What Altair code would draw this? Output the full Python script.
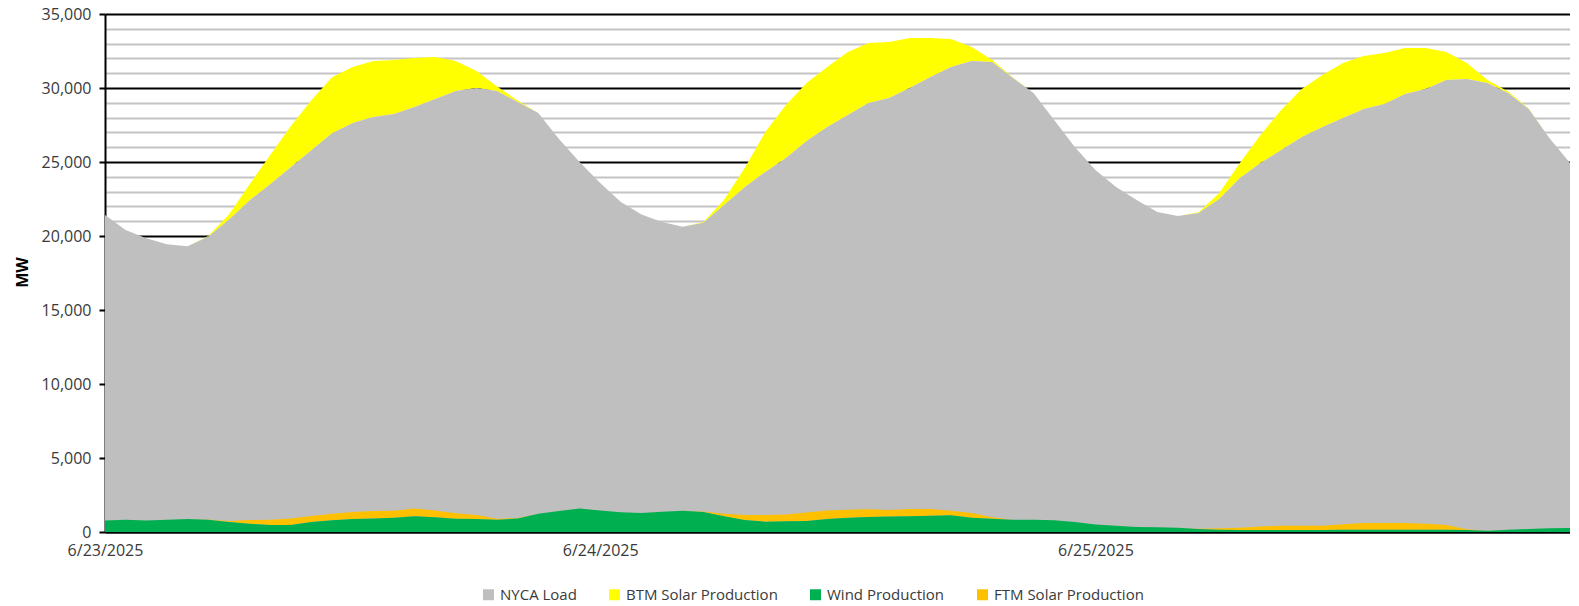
import altair as alt
import pandas as pd

series_names = ["NYCA Load", "BTM Solar Production", "Wind Production", "FTM Solar Production"]
series_colors = ["#bfbfbf", "#ffff00", "#00b050", "#ffc000"]
draw_order = ["BTM Solar Production", "NYCA Load", "FTM Solar Production", "Wind Production"]

date_ticks = [0, 24, 48]
date_labels = ["6/23/2025", "6/24/2025", "6/25/2025"]

# hourly values, 6/23/2025 00:00 .. 6/25/2025 23:00 (MW)
nyca_load = [21420, 20400, 19850, 19450, 19300, 19950, 21100, 22400, 23500, 24650, 25800, 26950,
             27640, 28040, 28250, 28720, 29260, 29800, 30000, 29800, 29050, 28310, 26560, 25000,
             23580, 22300, 21450, 20950, 20620, 20900, 22100, 23300, 24330, 25270, 26420, 27370,
             28180, 28990, 29330, 30000, 30740, 31420, 31830, 31760, 30680, 29660, 27840, 26010,
             24460, 23310, 22430, 21620, 21350, 21560, 22500, 23920, 24930, 25810, 26690, 27370,
             27970, 28580, 28920, 29590, 29930, 30540, 30610, 30340, 29660, 28580, 26620, 24930]

btm_solar = [0, 0, 0, 0, 0, 50, 330, 1080, 1960, 2770, 3380, 3780,
             3780, 3790, 3650, 3310, 2840, 2030, 1150, 300, 100, 0, 0, 0,
             0, 0, 0, 0, 0, 50, 330, 1300, 2700, 3580, 3920, 4050,
             4250, 4050, 3780, 3380, 2640, 1890, 940, 130, 30, 0, 0, 0,
             0, 0, 0, 0, 0, 50, 410, 1010, 1900, 2700, 3240, 3510,
             3720, 3580, 3450, 3110, 2770, 1890, 1080, 200, 100, 30, 0, 0]

wind = [770, 830, 780, 830, 880, 830, 680, 560, 470, 470, 680, 790,
        880, 920, 970, 1060, 990, 900, 880, 830, 920, 1240, 1420, 1580,
        1460, 1330, 1280, 1370, 1440, 1350, 1060, 810, 700, 720, 740, 880,
        970, 1010, 1040, 1060, 1100, 1130, 970, 900, 830, 830, 790, 680,
        500, 430, 340, 320, 290, 200, 160, 135, 135, 135, 135, 135,
        160, 160, 160, 160, 160, 160, 135, 90, 160, 200, 250, 270]

ftm_solar = [0, 0, 0, 0, 0, 20, 70, 250, 360, 450, 400, 450,
             470, 500, 470, 520, 470, 360, 270, 70, 30, 0, 0, 0,
             0, 0, 0, 0, 0, 30, 180, 340, 450, 470, 570, 580,
             540, 520, 450, 490, 450, 310, 310, 90, 0, 0, 0, 0,
             0, 0, 0, 0, 0, 20, 90, 160, 230, 290, 290, 290,
             360, 450, 450, 450, 400, 310, 45, 0, 0, 0, 0, 0]

rows = []
for h in range(len(nyca_load)):
    rows.append(dict(hour=h, series="NYCA Load", lo=0, hi=nyca_load[h]))
    rows.append(dict(hour=h, series="BTM Solar Production", lo=nyca_load[h], hi=nyca_load[h] + btm_solar[h]))
    rows.append(dict(hour=h, series="Wind Production", lo=0, hi=wind[h]))
    rows.append(dict(hour=h, series="FTM Solar Production", lo=wind[h], hi=wind[h] + ftm_solar[h]))
df = pd.DataFrame(rows)

FONT = "Open Sans"
TXT = "#3a3a3a"

x_label_expr = " : ".join(
    f"datum.value === {t} ? '{l}'" for t, l in zip(date_ticks, date_labels)
) + " : ''"

x_enc = alt.X(
    "hour:Q",
    scale=alt.Scale(domain=[0, len(nyca_load) - 1], nice=False, zero=False),
    axis=alt.Axis(
        values=date_ticks, labelExpr=x_label_expr, title=None, grid=False,
        ticks=False, labelPadding=10, labelFont=FONT, labelFontSize=16,
        labelColor=TXT, domainColor="black", domainWidth=2, labelFlush=False,
        labelOverlap=False,
    ),
)

major = "datum.value % 5000 === 0"
y_enc = alt.Y(
    "hi:Q",
    stack=None,
    scale=alt.Scale(domain=[0, 35000], nice=False),
    axis=alt.Axis(
        values=list(range(0, 35001, 1000)),
        labelExpr=f"{major} ? format(datum.value, ',') : ''",
        gridColor={"condition": {"test": major, "value": "black"}, "value": "#c4c4c4"},
        gridWidth=2,
        tickColor={"condition": {"test": major, "value": "black"}, "value": "transparent"},
        tickSize=6, tickWidth=2, domainColor="black", domainWidth=2,
        labelFont=FONT, labelFontSize=16, labelColor=TXT, labelPadding=8,
        labelOverlap=False, labelBound=False,
        title="MW", titleFont=FONT, titleFontSize=16, titleFontWeight="bold",
        titleColor="black", titleX=-83, titleY=258, titleBaseline="middle",
        titleAlign="center",
    ),
)

color_enc = alt.Color(
    "series:N",
    scale=alt.Scale(domain=series_names, range=series_colors),
    legend=alt.Legend(
        title=None, orient="none", direction="horizontal", columns=4,
        legendX=376, legendY=573, symbolType="square", symbolSize=121,
        symbolStrokeWidth=0, symbolOpacity=1, labelFont=FONT, labelFontSize=15,
        labelColor=TXT, columnPadding=30, labelOffset=4,
    ),
)

base = alt.Chart(df)
layers = [
    base.transform_filter(alt.datum.series == name)
    .mark_area(opacity=1, interpolate="linear")
    .encode(x=x_enc, y=y_enc, y2=alt.Y2("lo:Q"), color=color_enc)
    for name in draw_order
]

chart = (
    alt.layer(*layers)
    .properties(
        width=1465, height=518,
        autosize=alt.AutoSizeParams(type="none"),
        padding={"left": 97, "top": 6, "right": 0, "bottom": 71},
    )
    .configure_view(stroke=None)
)

chart.save("out.html", embed_options={"renderer": "svg", "actions": False})
